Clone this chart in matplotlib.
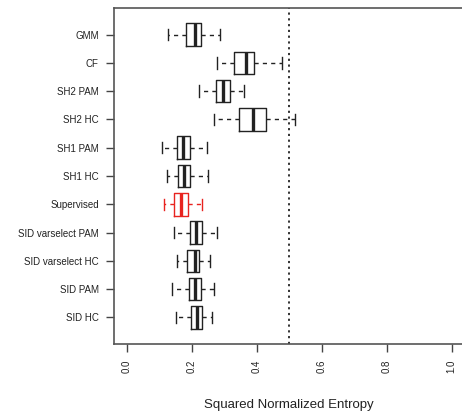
import matplotlib
matplotlib.use("Agg")
import matplotlib.pyplot as plt

plt.rcParams['font.family'] = ['Liberation Sans', 'DejaVu Sans']

# methods, top to bottom
methods = ['GMM', 'CF', 'SH2 PAM', 'SH2 HC', 'SH1 PAM', 'SH1 HC', 'Supervised',
           'SID varselect PAM', 'SID varselect HC', 'SID PAM', 'SID HC']
whisk_lo = [0.126, 0.277, 0.222, 0.268, 0.108, 0.124, 0.115, 0.144, 0.154, 0.140, 0.152]
q1 = [0.181, 0.331, 0.275, 0.346, 0.155, 0.157, 0.146, 0.193, 0.186, 0.190, 0.197]
med = [0.209, 0.368, 0.295, 0.388, 0.173, 0.176, 0.167, 0.214, 0.209, 0.209, 0.216]
q3 = [0.227, 0.392, 0.316, 0.429, 0.195, 0.194, 0.187, 0.230, 0.221, 0.229, 0.232]
whisk_hi = [0.288, 0.479, 0.362, 0.518, 0.248, 0.250, 0.231, 0.277, 0.257, 0.267, 0.263]
colors = ['#222222'] * 6 + ['#e8231f'] + ['#222222'] * 4

xticks = [0.0, 0.2, 0.4, 0.6, 0.8, 1.0]
threshold = 0.5

fig = plt.figure(figsize=(4.62, 4.18), dpi=100)
ax = fig.add_axes([114 / 462, 1 - 344 / 418, 350.5 / 462, 336 / 418])

n = len(methods)
positions = list(range(n, 0, -1))
for i in range(n):
    st = [{'whislo': whisk_lo[i], 'q1': q1[i], 'med': med[i], 'q3': q3[i],
           'whishi': whisk_hi[i], 'fliers': []}]
    c = colors[i]
    ax.bxp(st, positions=[positions[i]], vert=False, widths=0.8, showfliers=False,
           boxprops=dict(color=c, linewidth=1.0),
           medianprops=dict(color=c, linewidth=2.4),
           whiskerprops=dict(color=c, linewidth=1.0, linestyle=(0, (3, 3))),
           capprops=dict(color=c, linewidth=1.0), capwidths=0.4)

# threshold line
ax.axvline(threshold, color='#222222', linestyle=(0, (1.2, 2)), linewidth=1.3)

ax.set_xlim(-0.04, 1.04)
ax.set_ylim(0.06, 11.94)
ax.set_yticks(positions)
ax.set_yticklabels(methods, fontsize=7, color='#222222')
ax.set_xticks(xticks)
ax.set_xticklabels(['%.1f' % t for t in xticks], rotation=90, fontsize=7, color='#222222')
ax.tick_params(axis='both', length=6, width=1, color='#444444', pad=5)
for s in ax.spines.values():
    s.set_color('#555555')
    s.set_linewidth(1.2)
ax.set_xlabel('Squared Normalized Entropy', fontsize=9.5, labelpad=19, color='#222222')

fig.savefig('out.png', dpi=100)
